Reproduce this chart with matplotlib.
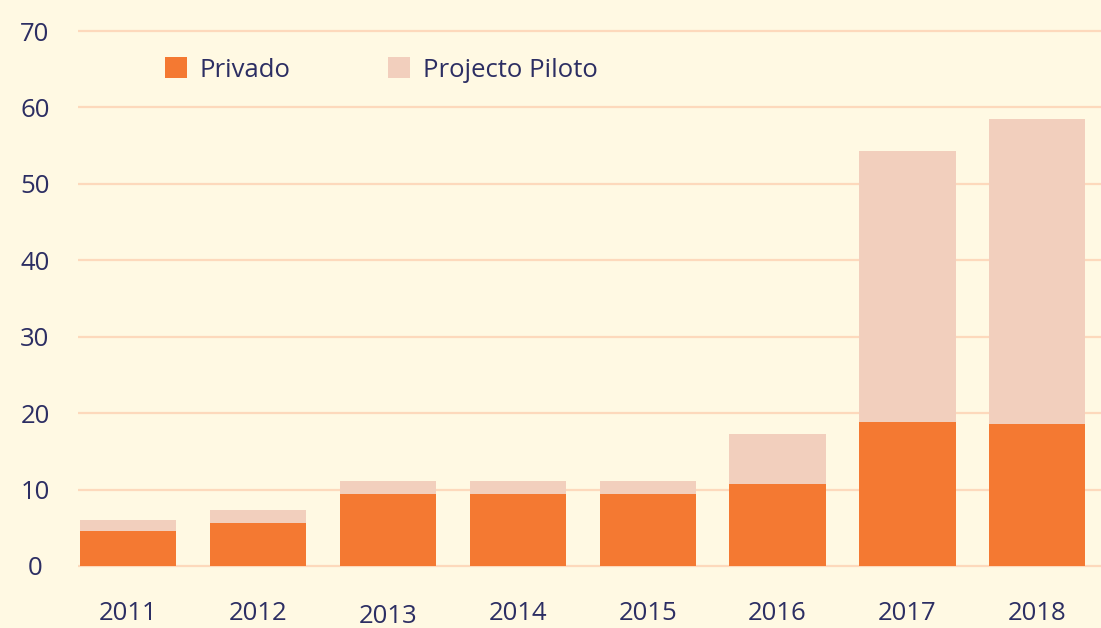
import matplotlib
matplotlib.use('Agg')
import matplotlib.pyplot as plt
from matplotlib.transforms import ScaledTranslation
import numpy as np

anos = ['2011', '2012', '2013', '2014', '2015', '2016', '2017', '2018']
privado = [4.6, 5.6, 9.4, 9.4, 9.4, 10.7, 18.8, 18.6]
piloto = [1.4, 1.7, 1.7, 1.7, 1.7, 6.6, 35.5, 39.9]
yticks = [0, 10, 20, 30, 40, 50, 60, 70]

bg = '#FFF9E3'
laranja = '#F47932'
pessego = '#F2CFBD'
grelha = '#FDD9BC'
texto = '#2C2E63'

plt.rcParams['font.family'] = ['Open Sans', 'DejaVu Sans']

fig = plt.figure(figsize=(11.01, 6.28), dpi=100, facecolor=bg)
ax = fig.add_axes([78 / 1101, 0.0939, 1 - 78 / 1101, 0.8615])
ax.set_facecolor(bg)

x = np.arange(len(anos))
ax.bar(x, privado, width=0.74, color=laranja, label='Privado', zorder=3)
ax.bar(x, piloto, width=0.74, bottom=privado, color=pessego,
       label='Projecto Piloto', zorder=3)

ax.set_xlim(-0.385, 7.49)
ax.set_ylim(-0.4, 70.4)
ax.set_yticks(yticks)
ax.set_xticks(x)
ax.set_xticklabels(anos)
ax.yaxis.grid(True, color=grelha, linewidth=1.6, zorder=0)
ax.set_axisbelow(True)
for s in ax.spines.values():
    s.set_visible(False)

ax.tick_params(axis='both', length=0, labelsize=18.5, colors=texto)
ax.tick_params(axis='x', pad=23)
ax.tick_params(axis='y', pad=31)
for lbl in ax.get_yticklabels():
    lbl.set_ha('center')

# the 2013 label sits a little lower in the original
lbl = ax.get_xticklabels()[2]
lbl.set_transform(lbl.get_transform() + ScaledTranslation(0, -3 / 100, fig.dpi_scale_trans))

leg = ax.legend(loc='center left', bbox_to_anchor=(165 / 1101, 1 - 70 / 628),
                bbox_transform=fig.transFigure, ncol=2, frameon=False,
                fontsize=18.5, handlelength=0.85, handleheight=0.85,
                handletextpad=0.5, columnspacing=3.8, borderpad=0,
                borderaxespad=0)
for t in leg.get_texts():
    t.set_color(texto)

fig.savefig('out.png', dpi=100, facecolor=bg)
